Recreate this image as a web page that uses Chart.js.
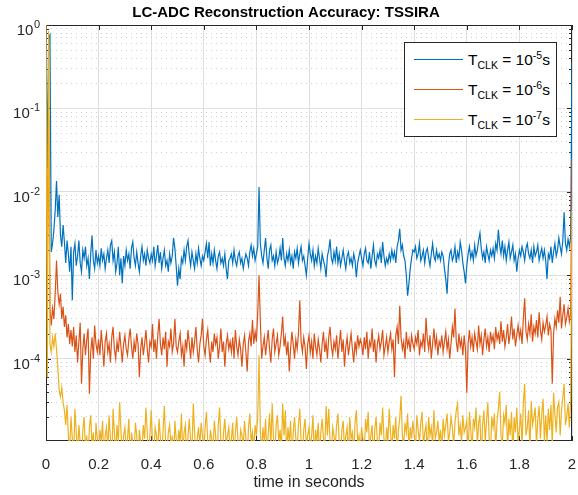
<!DOCTYPE html>
<html>
<head>
<meta charset="utf-8">
<script src="https://cdn.jsdelivr.net/npm/chart.js@4.4.1/dist/chart.umd.min.js"></script>
<style>
  html, body { margin: 0; padding: 0; background: #fff; }
  #wrap { position: relative; width: 578px; height: 495px; }
  #legend {
    position: absolute; left: 404px; top: 42px; width: 151px; height: 93px;
    border: 1px solid #262626; background: #fff;
    font-family: "Liberation Sans", Arial, sans-serif; color: #000;
  }
  .row { position: absolute; left: 0; width: 100%; height: 20px; }
  .swatch { position: absolute; left: 9px; top: 9px; width: 49px; height: 0; border-top: 1.5px solid; }
  .lbl { position: absolute; left: 63px; top: 0; font-size: 15.5px; line-height: 20px; white-space: nowrap; }
  .lbl sub, .lbl sup { font-size: 10.5px; line-height: 0; }
</style>
</head>
<body>
<div id="wrap">
  <canvas id="chart" width="578" height="495"></canvas>
  <div id="legend"></div>
</div>
<script>
// sample spacing in seconds
const dt = 0.005;

const titleText = 'LC-ADC Reconstruction Accuracy: TSSIRA';
const xAxisTitle = 'time in seconds';
const xTicks = [0, 0.2, 0.4, 0.6, 0.8, 1, 1.2, 1.4, 1.6, 1.8, 2];
const xTickLabels = ['0', '0.2', '0.4', '0.6', '0.8', '1', '1.2', '1.4', '1.6', '1.8', '2'];
const yDecades = [0, -1, -2, -3, -4];
const yMinorSteps = [2, 3, 4, 5, 6, 7, 8, 9];
const yMin = 1.03e-5, yMax = 1;

// legend: exponent of T_CLK for each series
const clkExponents = ['-5', '-6', '-7'];
const seriesColors = ['#0072BD', '#D95319', '#EDB120'];

// T_CLK = 1e-5 s, values in units of 1e-3
const blueScale = 1e-3;
const blue = [
  800, 20, 700, 760, 1.9, 2.4, 3.5, 6.0, 13.5, 5.0, 9.2, 3.0, 2.2, 4.0, 2.5, 1.4, 2.6, 1.8, 1.1, 2.2,
  0.5, 1.9, 2.4, 1.3, 1.7, 2.6, 1.4, 1.1, 2.0, 1.6, 2.2, 1.3, 1.6, 0.9, 1.8, 3.0, 1.5, 1.2, 2.0, 1.4,
  1.7, 1.3, 2.1, 1.5, 1.8, 1.2, 1.6, 2.0, 1.4, 2.3, 2.6, 1.5, 1.9, 1.1, 1.4, 2.2, 1.0, 1.6, 0.8, 1.7,
  1.3, 2.0, 1.5, 1.8, 1.2, 2.1, 2.5, 1.6, 1.3, 1.9, 1.4, 1.1, 1.7, 2.2, 1.5, 1.8, 1.3, 2.0, 1.6, 1.4,
  1.8, 1.5, 2.2, 1.3, 1.7, 2.3, 1.4, 1.9, 1.2, 1.6, 2.0, 1.3, 1.5, 1.1, 1.8, 1.4, 1.7, 2.8, 2.1, 1.3,
  0.75, 1.2, 0.9, 1.6, 1.4, 2.0, 1.5, 2.2, 2.6, 1.7, 1.3, 1.9, 1.5, 1.2, 1.8, 1.4, 2.1, 1.6, 1.3, 1.7,
  1.5, 1.9, 2.4, 1.6, 2.5, 1.3, 1.8, 1.4, 2.0, 1.5, 1.2, 1.7, 1.9, 1.4, 1.6, 1.3, 1.8, 1.2, 0.9, 1.5,
  1.6, 1.8, 1.4, 2.0, 1.5, 1.3, 1.7, 1.9, 1.4, 1.6, 1.2, 1.5, 1.8, 1.6, 1.3, 1.9, 2.3, 1.7, 2.1, 1.5,
  1.8, 2.2, 11.4, 2.4, 1.7, 1.4, 2.0, 2.8, 1.6, 1.2, 2.0, 2.3, 1.5, 1.7, 1.3, 1.9, 1.4, 1.6, 2.1, 1.5,
  2.8, 1.6, 1.3, 1.8, 1.5, 2.0, 1.4, 1.7, 1.2, 1.9, 1.6, 2.1, 1.4, 1.8, 2.2, 1.5, 1.7, 1.3, 1.0, 1.6,
  2.4, 1.8, 1.5, 2.0, 1.3, 1.7, 1.4, 2.1, 1.6, 1.2, 1.8, 1.5, 1.3, 0.95, 1.7, 2.0, 2.7, 1.6, 1.4, 1.9,
  1.5, 2.2, 1.4, 1.8, 1.3, 1.6, 2.0, 1.5, 1.2, 1.7, 1.9, 1.4, 1.6, 1.3, 1.8, 1.5, 0.95, 1.4, 1.7, 2.0,
  1.6, 1.3, 1.8, 2.1, 1.5, 1.4, 1.9, 1.2, 1.7, 2.3, 1.5, 1.3, 1.8, 1.6, 2.0, 1.4, 2.5, 1.7, 1.3, 1.6,
  1.4, 1.8, 1.5, 2.0, 1.6, 1.9, 1.4, 2.2, 2.6, 3.6, 2.0, 2.3, 1.7, 1.5, 1.0, 0.57, 0.8, 1.2, 1.6, 2.0,
  1.9, 2.2, 1.6, 1.8, 2.4, 1.5, 1.7, 2.0, 1.4, 1.9, 2.1, 1.6, 1.3, 1.8, 2.4, 1.7, 1.5, 2.0, 1.6, 1.8,
  1.5, 1.9, 1.7, 1.2, 0.9, 0.6, 1.3, 1.8, 2.0, 1.5, 1.7, 2.2, 1.4, 1.9, 1.6, 2.5, 2.0, 1.4, 1.1, 0.8,
  1.3, 1.8, 2.2, 1.6, 1.9, 1.5, 2.3, 1.7, 2.0, 2.6, 3.2, 2.1, 1.6, 1.9, 1.4, 2.2, 1.8, 1.5, 2.0, 1.7,
  2.1, 1.6, 2.4, 2.0, 3.5, 2.3, 1.8, 2.6, 1.7, 2.2, 1.5, 2.0, 2.5, 1.6, 1.9, 2.3, 1.5, 1.8, 1.1, 1.6,
  2.0, 1.7, 2.2, 1.9, 1.5, 2.1, 2.4, 1.8, 1.6, 2.0, 1.4, 2.2, 1.7, 1.9, 2.3, 1.5, 1.8, 2.1, 1.6, 2.0,
  1.5, 0.9, 1.8, 1.6, 2.2, 1.4, 1.9, 2.4, 1.7, 2.0, 2.8, 2.2, 1.8, 2.6, 5.7, 2.4, 2.0, 2.7, 2.2, 2.9, 360
];

// T_CLK = 1e-6 s, values in units of 1e-4
const orangeScale = 1e-4;
const orange = [
  1000, 20, 800, 4, 2.5, 4, 3, 6, 15, 6.3, 4.5, 6, 3, 4.2, 2.4, 3.3, 1.8, 2.6, 1.5, 2.2,
  1.4, 2.4, 1.2, 1.9, 0.9, 1.6, 2.7, 0.5, 1.3, 2.0, 1.1, 1.7, 2.3, 0.38, 1.2, 1.8, 1.0, 2.5, 1.5, 1.2,
  1.7, 1.1, 2.2, 1.4, 0.8, 1.6, 2.0, 1.2, 1.5, 0.9, 1.8, 2.4, 1.3, 1.0, 1.6, 1.2, 2.1, 1.4, 0.9, 1.5,
  1.9, 1.3, 1.1, 1.7, 2.3, 1.4, 1.0, 1.6, 1.2, 2.0, 1.5, 0.6, 1.3, 1.8, 1.1, 1.5, 2.2, 1.3, 0.9, 1.6,
  1.4, 2.6, 1.2, 1.7, 1.0, 1.9, 3.0, 1.5, 1.1, 1.8, 1.3, 2.1, 0.8, 1.6, 1.4, 2.3, 1.2, 1.5, 3.0, 1.4,
  1.2, 1.6, 2.0, 1.1, 1.4, 0.8, 1.7, 1.3, 2.2, 1.5, 1.0, 1.8, 1.2, 1.6, 2.4, 1.3, 0.9, 1.5, 1.9, 3.0,
  1.4, 1.1, 1.7, 2.2, 1.3, 0.9, 1.6, 1.2, 2.0, 1.5, 1.8, 1.0, 1.4, 2.3, 1.2, 1.6, 0.8, 1.5, 1.9, 1.3,
  1.6, 1.2, 1.8, 1.0, 2.2, 1.4, 1.1, 1.7, 1.3, 0.8, 1.5, 1.9, 1.2, 0.7, 1.6, 2.0, 1.4, 2.9, 1.5, 2.1,
  1.6, 3.5, 10, 2.8, 1.0, 1.4, 1.8, 1.1, 1.6, 2.2, 1.3, 0.9, 1.7, 2.3, 1.2, 1.5, 1.9, 1.1, 1.4, 2.0,
  3.2, 1.4, 1.8, 1.1, 1.6, 0.7, 1.3, 2.1, 1.5, 1.0, 1.7, 1.3, 2.0, 5.0, 1.6, 1.2, 1.8, 1.4, 0.75, 1.5,
  1.9, 1.2, 1.6, 1.0, 2.0, 1.4, 1.1, 1.7, 1.3, 0.9, 1.5, 2.1, 1.2, 1.6, 1.0, 1.8, 2.4, 1.4, 1.1, 1.6,
  1.3, 1.9, 1.0, 1.5, 2.2, 1.2, 1.7, 0.8, 1.4, 1.8, 1.1, 1.5, 2.0, 1.3, 0.9, 1.6, 1.2, 1.9, 1.4, 1.7,
  1.5, 1.1, 1.8, 1.3, 2.1, 1.0, 1.6, 1.4, 2.3, 1.2, 1.7, 0.9, 1.5, 1.9, 1.3, 1.6, 2.2, 1.1, 1.4, 1.8,
  1.2, 1.6, 2.0, 1.3, 1.7, 0.6, 1.9, 2.4, 1.5, 4.3, 1.8, 1.3, 1.6, 1.0, 2.1, 1.4, 1.7, 1.2, 1.9, 1.5,
  1.3, 1.8, 1.5, 2.2, 1.1, 1.6, 1.4, 2.0, 1.2, 3.1, 1.7, 1.3, 1.9, 1.0, 1.5, 2.3, 1.4, 1.8, 1.1, 1.6,
  1.4, 1.9, 1.2, 1.6, 2.1, 1.3, 1.7, 1.0, 1.5, 2.4, 1.8, 4.0, 1.6, 1.2, 2.0, 1.4, 1.7, 1.1, 1.9, 1.3,
  0.39, 1.5, 2.2, 1.4, 1.8, 1.2, 2.0, 1.6, 1.3, 2.5, 1.5, 1.9, 1.1, 1.7, 2.3, 1.4, 1.8, 1.2, 2.1, 1.6,
  1.9, 1.3, 2.4, 1.7, 2.0, 1.5, 2.8, 1.6, 2.2, 1.4, 1.8, 2.6, 1.5, 2.0, 3.2, 1.7, 2.3, 1.4, 1.9, 2.5,
  1.8, 2.2, 1.5, 3.0, 5.3, 2.1, 1.7, 2.6, 2.0, 3.4, 1.6, 2.4, 2.0, 2.9, 1.8, 3.6, 2.2, 1.7, 2.7, 2.1,
  2.5, 3.2, 1.9, 2.6, 2.2, 0.5, 2.0, 3.0, 2.4, 3.8, 2.7, 5.5, 2.3, 3.3, 4.5, 2.6, 3.1, 4.0, 2.8, 3.5, 250
];

// T_CLK = 1e-7 s, values in units of 1e-5 (values under 1 fall below the axis)
const yellowScale = 1e-5;
const yellow = [
  100000, 6, 85000, 15, 12, 18, 14, 20, 13, 8, 4.2, 3.5, 4.5, 3.0, 2.4, 1.6, 2.8, 1.2, 0.8, 2.0,
  1.1, 0.6, 2.5, 1.3, 0.7, 1.6, 1.0, 0.5, 1.4, 2.0, 0.8, 1.2, 0.6, 1.5, 2.1, 0.9, 1.3, 0.5, 1.7, 1.1,
  0.7, 1.4, 1.0, 1.8, 0.6, 1.2, 1.5, 0.8, 2.1, 1.1, 0.5, 2.5, 1.3, 0.7, 1.6, 1.0, 3.0, 1.4, 0.6, 1.2,
  1.5, 0.8, 1.1, 1.9, 0.6, 1.3, 1.0, 0.7, 1.7, 1.2, 0.5, 1.4, 1.0, 0.8, 1.6, 1.1, 2.6, 1.3, 0.6, 1.2,
  2.4, 1.0, 0.7, 1.5, 1.2, 0.8, 1.9, 1.1, 0.6, 1.4, 2.7, 1.0, 0.7, 1.3, 1.6, 0.9, 1.2, 0.5, 1.8, 1.1,
  0.8, 1.4, 1.0, 2.2, 0.7, 1.3, 1.6, 0.6, 1.2, 1.9, 1.0, 0.8, 2.9, 1.3, 0.6, 1.1, 1.5, 0.9, 1.7, 1.2,
  0.7, 1.5, 2.3, 1.0, 0.6, 1.4, 1.1, 0.8, 1.8, 1.2, 0.5, 1.6, 2.6, 1.0, 0.7, 1.3, 1.9, 0.9, 1.2, 1.5,
  0.8, 1.1, 1.7, 0.6, 1.3, 2.0, 1.0, 0.7, 1.4, 1.2, 0.9, 1.8, 1.1, 0.6, 1.5, 2.2, 1.0, 1.3, 0.8, 1.6,
  1.2, 2.0, 11, 1.4, 0.7, 1.5, 1.0, 1.9, 0.6, 1.3, 2.2, 0.9, 2.9, 1.1, 0.7, 1.6, 2.1, 1.0, 1.4, 0.8,
  2.9, 1.2, 2.4, 0.7, 1.5, 1.0, 1.8, 0.6, 1.3, 2.0, 1.1, 0.8, 1.6, 2.5, 1.0, 0.7, 1.4, 1.9, 0.9, 1.2,
  1.5, 0.8, 1.2, 2.1, 0.6, 1.4, 1.0, 1.7, 0.7, 1.3, 1.9, 1.1, 0.8, 2.7, 1.2, 2.5, 1.0, 0.6, 1.5, 1.2,
  0.9, 1.6, 2.2, 1.0, 0.7, 1.4, 1.8, 0.8, 1.2, 1.5, 0.6, 2.0, 1.1, 1.3, 0.7, 1.7, 2.4, 1.0, 1.2, 0.8,
  1.5, 1.1, 0.7, 1.9, 1.3, 2.3, 0.8, 1.2, 1.6, 0.6, 1.4, 2.0, 1.0, 0.8, 1.7, 1.2, 2.6, 1.1, 0.7, 1.5,
  1.0, 2.5, 1.3, 0.8, 1.6, 1.1, 2.0, 0.7, 1.4, 1.9, 3.6, 1.2, 0.9, 1.7, 1.3, 2.2, 0.8, 1.5, 1.1, 1.8,
  1.2, 0.8, 2.1, 1.4, 1.0, 1.7, 2.3, 0.9, 1.3, 1.6, 0.7, 2.0, 1.2, 1.5, 0.9, 2.4, 1.1, 1.3, 1.8, 1.0,
  1.4, 0.8, 1.9, 1.2, 1.6, 2.2, 1.0, 1.3, 2.0, 1.5, 0.9, 1.7, 2.4, 2.9, 1.2, 1.6, 1.0, 2.1, 1.3, 1.5,
  1.8, 0.7, 2.3, 1.4, 0.8, 1.9, 1.5, 2.6, 0.9, 1.7, 2.1, 0.6, 1.6, 2.4, 1.0, 1.8, 3.0, 1.1, 0.7, 2.0,
  1.5, 2.2, 0.8, 1.8, 2.5, 4.0, 1.2, 0.9, 2.1, 1.7, 2.8, 0.8, 1.9, 1.2, 2.3, 0.7, 2.0, 1.3, 2.6, 1.0,
  1.4, 2.2, 0.9, 2.9, 5.0, 1.2, 1.5, 2.4, 0.8, 3.1, 1.6, 2.0, 2.6, 0.9, 1.9, 2.7, 1.1, 2.2, 3.3, 1.0,
  2.1, 1.0, 2.5, 1.4, 2.8, 0.9, 3.9, 2.2, 1.3, 2.6, 3.0, 1.2, 2.4, 3.4, 5.0, 1.6, 2.0, 2.9, 1.5, 3.2, 600
];

const FONT = '"Liberation Sans", Arial, Helvetica, sans-serif';
const AXIS_COLOR = '#262626';

function toPoints(values, scale) {
  // round the time so the last sample lands exactly on 2 s
  return values.map((v, i) => ({ x: Math.round(i * dt * 1000) / 1000, y: v * scale }));
}

function isDecade(v) {
  const l = Math.log10(v);
  return Math.abs(l - Math.round(l)) < 1e-9;
}

// box and inward ticks go under the lines so the spikes at t = 2 stay visible;
// the 10^n labels are drawn afterwards
const matlabAxes = {
  id: 'matlabAxes',
  beforeDatasetsDraw(chart) {
    const { ctx, chartArea: a, scales: { x, y } } = chart;
    ctx.save();
    ctx.strokeStyle = AXIS_COLOR;
    ctx.lineWidth = 1;
    ctx.strokeRect(a.left + 0.5, a.top + 0.5, a.right - a.left - 1, a.bottom - a.top - 1);

    ctx.beginPath();
    xTicks.forEach(v => {
      const px = Math.round(x.getPixelForValue(v)) + 0.5;
      ctx.moveTo(px, a.bottom); ctx.lineTo(px, a.bottom - 5);
      ctx.moveTo(px, a.top); ctx.lineTo(px, a.top + 5);
    });
    y.ticks.forEach(t => {
      const py = Math.round(y.getPixelForValue(t.value)) + 0.5;
      const len = isDecade(t.value) ? 5 : 3;
      ctx.moveTo(a.left, py); ctx.lineTo(a.left + len, py);
      ctx.moveTo(a.right, py); ctx.lineTo(a.right - len, py);
    });
    ctx.stroke();
    ctx.restore();
  },
  afterDraw(chart) {
    const { ctx, chartArea: a, scales: { y } } = chart;
    ctx.save();
    ctx.fillStyle = AXIS_COLOR;
    ctx.textBaseline = 'alphabetic';
    const right = a.left - 6;
    yDecades.forEach(e => {
      const py = y.getPixelForValue(Math.pow(10, e));
      const sup = String(e);
      ctx.font = '11px ' + FONT;
      const sw = ctx.measureText(sup).width;
      ctx.textAlign = 'left';
      ctx.fillText(sup, right - sw, py + 3);
      ctx.font = '15px ' + FONT;
      ctx.textAlign = 'right';
      ctx.fillText('10', right - sw - 0.5, py + 10);
    });
    ctx.restore();
  }
};

const datasets = [
  { data: toPoints(blue, blueScale), borderColor: seriesColors[0], order: 2 },
  { data: toPoints(orange, orangeScale), borderColor: seriesColors[1], order: 1 },
  { data: toPoints(yellow, yellowScale), borderColor: seriesColors[2], order: 0 }
].map(d => Object.assign(d, { borderWidth: 1.2, pointRadius: 0, tension: 0, fill: false }));

new Chart(document.getElementById('chart'), {
  type: 'line',
  data: { datasets },
  options: {
    responsive: false,
    animation: false,
    events: [],
    layout: { padding: { left: 0, right: 6, top: 0, bottom: 0 } },
    plugins: {
      legend: { display: false },
      tooltip: { enabled: false },
      title: {
        display: true,
        text: titleText,
        color: '#000',
        font: { family: FONT, size: 15, weight: 'bold', lineHeight: 1.2 },
        padding: { top: 3.5, bottom: 3.5 }
      }
    },
    scales: {
      x: {
        type: 'linear',
        min: 0,
        max: 2,
        afterBuildTicks: s => { s.ticks = xTicks.map(v => ({ value: v })); },
        afterFit: s => { s.height = 54; s.paddingLeft = 0; s.paddingRight = 0; },
        ticks: {
          autoSkip: false,
          maxRotation: 0,
          padding: 15,
          color: AXIS_COLOR,
          font: { family: FONT, size: 15 },
          callback: (v, i) => xTickLabels[i]
        },
        grid: { color: '#dedede', drawTicks: false },
        border: { display: false },
        title: {
          display: true,
          text: xAxisTitle,
          color: AXIS_COLOR,
          font: { family: FONT, size: 16 },
          padding: { top: 0, bottom: 3 }
        }
      },
      y: {
        type: 'logarithmic',
        min: yMin,
        max: yMax,
        afterBuildTicks: s => {
          const ticks = [];
          yDecades.slice().reverse().forEach(e => {
            const base = Math.pow(10, e);
            ticks.push({ value: base, major: true });
            if (e < 0) yMinorSteps.forEach(m => ticks.push({ value: m * base }));
          });
          yMinorSteps.forEach(m => ticks.push({ value: m * 1e-5 }));
          s.ticks = ticks.filter(t => t.value >= yMin && t.value <= yMax).sort((p, q) => p.value - q.value);
        },
        afterFit: s => { s.width = 46; s.paddingTop = 0; s.paddingBottom = 0; },
        ticks: { autoSkip: false, callback: () => '' },
        grid: {
          drawTicks: false,
          color: c => (c.tick && !isDecade(c.tick.value)) ? '#cfcfcf' : '#dedede'
        },
        border: {
          display: false,
          dash: c => (c.tick && !isDecade(c.tick.value)) ? [1, 4] : []
        }
      }
    }
  },
  plugins: [matlabAxes]
});

// HTML legend with sub/superscripts
const legend = document.getElementById('legend');
clkExponents.forEach((exp, i) => {
  const row = document.createElement('div');
  row.className = 'row';
  row.style.top = (7 + i * 30) + 'px';
  row.innerHTML = `<span class="swatch" style="border-color:${seriesColors[i]}"></span>` +
    `<span class="lbl">T<sub>CLK</sub> = 10<sup>${exp}</sup>s</span>`;
  legend.appendChild(row);
});
</script>
</body>
</html>
